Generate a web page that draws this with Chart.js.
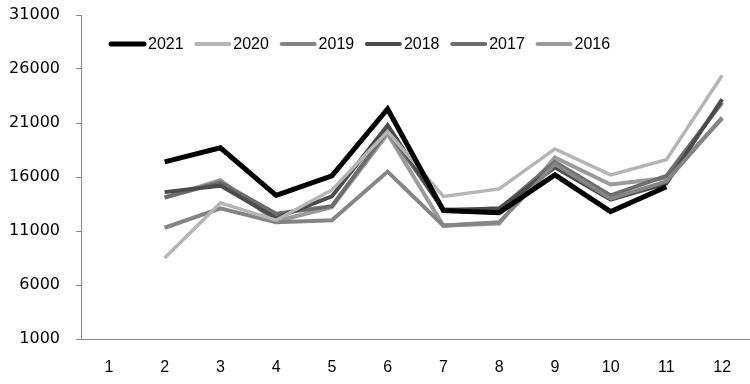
<!DOCTYPE html>
<html>
<head>
<meta charset="utf-8">
<script src="https://cdn.jsdelivr.net/npm/chart.js@4/dist/chart.umd.min.js"></script>
<style>
  html, body { margin: 0; padding: 0; background: #fff; }
  #wrap { width: 750px; height: 384px; }
</style>
</head>
<body>
<div id="wrap"><canvas id="myChart" width="750" height="384"></canvas></div>
<script>
// months along the x axis
let months = ['1', '2', '3', '4', '5', '6', '7', '8', '9', '10', '11', '12'];

// one array per year
let y2021 = [null, 17400, 18700, 14300, 16100, 22300, 12900, 12700, 16200, 12800, 15100, null];
let y2020 = [null, 8500, 13600, 12000, 14800, 20200, 14200, 14900, 18600, 16200, 17600, 25400];
let y2019 = [null, 11300, 13100, 11800, 12000, 16500, 11500, 11800, 17200, 14000, 15600, 21500];
let y2018 = [null, 14600, 15200, 12200, 14200, 20800, 12900, 13100, 16900, 13900, 15400, 23200];
let y2017 = [null, 14100, 15500, 12600, 13300, 20300, 13000, 13000, 17400, 14300, 16100, 22900];
let y2016 = [null, 14100, 15700, 11900, 13200, 20000, 11500, 11700, 17800, 15300, 15900, 21400];

let yearLabels = ['2021', '2020', '2019', '2018', '2017', '2016'];
let yTicks = [1000, 6000, 11000, 16000, 21000, 26000, 31000];

const ctx = document.getElementById('myChart');

function makeSet(label, data, color, width) {
    return {
        label: label,
        data: data,
        borderColor: color,
        backgroundColor: color,
        borderWidth: width,
        pointRadius: 0,
        tension: 0,
        spanGaps: false,
        borderJoinStyle: 'miter'
    };
}

// legend sits inside the plot, drawn by hand
const insideLegend = {
    id: 'insideLegend',
    afterDraw(chart) {
        const c = chart.ctx;
        const sets = chart.data.datasets;
        c.save();
        c.font = '16px "Liberation Sans"';
        c.textBaseline = 'middle';
        c.fillStyle = '#000';
        for (let i = 0; i < sets.length; i++) {
            let x = 111 + i * 85.3;
            let y = 44;
            c.strokeStyle = sets[i].borderColor;
            c.lineWidth = i == 0 ? 5 : 4;
            c.lineCap = 'round';
            c.beginPath();
            c.moveTo(x, y);
            c.lineTo(x + 33, y);
            c.stroke();
            c.fillText(sets[i].label, x + 37, y + 1);
        }
        c.restore();
    }
};

new Chart(ctx, {
    type: 'line',
    data: {
        labels: months,
        datasets: [
            makeSet(yearLabels[0], y2021, '#000000', 5),
            makeSet(yearLabels[1], y2020, '#b5b5b5', 3.5),
            makeSet(yearLabels[2], y2019, '#858585', 4),
            makeSet(yearLabels[3], y2018, '#4b4b4b', 4),
            makeSet(yearLabels[4], y2017, '#6d6d6d', 4),
            makeSet(yearLabels[5], y2016, '#9a9a9a', 4)
        ]
    },
    options: {
        responsive: false,
        animation: false,
        layout: { padding: { top: 15, right: 0, left: 0, bottom: 0 } },
        plugins: {
            legend: { display: false },
            tooltip: { enabled: false }
        },
        scales: {
            x: {
                offset: true,
                grid: { display: false },
                border: { display: true, color: '#868686', width: 1 },
                ticks: {
                    color: '#000',
                    padding: 11,
                    maxRotation: 0,
                    font: { family: '"Liberation Sans"', size: 16 }
                },
                afterFit(scale) { scale.height = 45; }
            },
            y: {
                min: 1000,
                max: 31000,
                afterBuildTicks(scale) { scale.ticks = yTicks.map(v => ({ value: v })); },
                grid: { drawOnChartArea: false, drawTicks: true, tickLength: 5, color: '#868686' },
                border: { display: true, color: '#868686', width: 1 },
                ticks: {
                    color: '#000',
                    padding: 16,
                    font: { family: '"DejaVu Sans"', size: 16 },
                    callback: (v) => String(v)
                },
                afterFit(scale) {
                    scale.width = 81;
                    // tick padding would otherwise push the plot top down
                    scale.paddingTop = 0;
                    scale.paddingBottom = 0;
                }
            }
        }
    },
    plugins: [insideLegend]
});
</script>
</body>
</html>
